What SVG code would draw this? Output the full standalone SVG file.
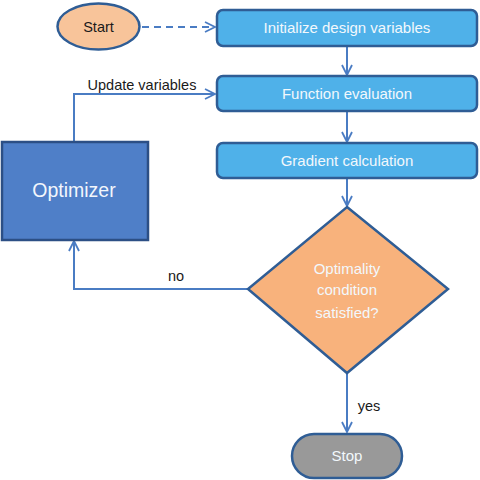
<svg xmlns="http://www.w3.org/2000/svg" width="480" height="480" viewBox="0 0 480 480">
<defs>
<marker id="arr" viewBox="0 0 12 12" refX="11" refY="6" markerWidth="12" markerHeight="12" markerUnits="userSpaceOnUse" orient="auto">
<path d="M1,1 L11,6 L1,11" fill="none" stroke="#4a7cc3" stroke-width="1.8"/>
</marker>
</defs>
<style>
.box{fill:#4fb1e9;stroke:#2f5d95;stroke-width:2.5}
.lbl{font-family:"Liberation Sans",Arial,sans-serif;font-size:15px;fill:#f2f8fc;text-anchor:middle}
.dk{font-family:"Liberation Sans",Arial,sans-serif;font-size:14.5px;fill:#1a1a1a;text-anchor:middle}
.ln{fill:none;stroke:#4a7cc3;stroke-width:2;marker-end:url(#arr)}
</style>
<g id="connectors">
<path class="ln" d="M142,27 L215,27" stroke-dasharray="7,5"/>
<path class="ln" d="M347,47 L347,75"/>
<path class="ln" d="M347,112 L347,142"/>
<path class="ln" d="M347,179 L347,206"/>
<path class="ln" d="M74,142 L74,94 L215,94"/>
<path class="ln" d="M248,289 L74,289 L74,241"/>
<path class="ln" d="M347,374 L347,432"/>
<text class="dk" x="142" y="90">Update variables</text>
<text class="dk" x="176" y="281">no</text>
<text class="dk" x="369" y="411">yes</text>
</g>
<g id="start">
<ellipse cx="98.5" cy="26.5" rx="41" ry="23" fill="#f8c49a" stroke="#2f5d95" stroke-width="2.5"/>
<text class="dk" x="98.5" y="32">Start</text>
</g>
<g id="init">
<rect class="box" x="217" y="10" width="260" height="36" rx="6"/>
<text class="lbl" x="347" y="33">Initialize design variables</text>
</g>
<g id="func">
<rect class="box" x="217" y="76" width="260" height="35" rx="6"/>
<text class="lbl" x="347" y="99">Function evaluation</text>
</g>
<g id="grad">
<rect class="box" x="217" y="143" width="260" height="35" rx="6"/>
<text class="lbl" x="347" y="166">Gradient calculation</text>
</g>
<g id="optimizer">
<rect x="2" y="142" width="146" height="98" fill="#4f7fc8" stroke="#2c4f85" stroke-width="2.5"/>
<text x="74" y="197" font-family="Liberation Sans,Arial,sans-serif" font-size="19.5" fill="#f2f6fc" text-anchor="middle">Optimizer</text>
</g>
<g id="decision">
<polygon points="347,207 448,289 347,373 248,289" fill="#f8b27c" stroke="#2f5d95" stroke-width="2.5"/>
<text class="lbl" x="347" y="274">Optimality</text>
<text class="lbl" x="347" y="295">condition</text>
<text class="lbl" x="347" y="318">satisfied?</text>
</g>
<g id="stop">
<rect x="292" y="434" width="110" height="44" rx="22" fill="#999999" stroke="#2f5d95" stroke-width="2.5"/>
<text class="lbl" x="347" y="461">Stop</text>
</g>
</svg>
